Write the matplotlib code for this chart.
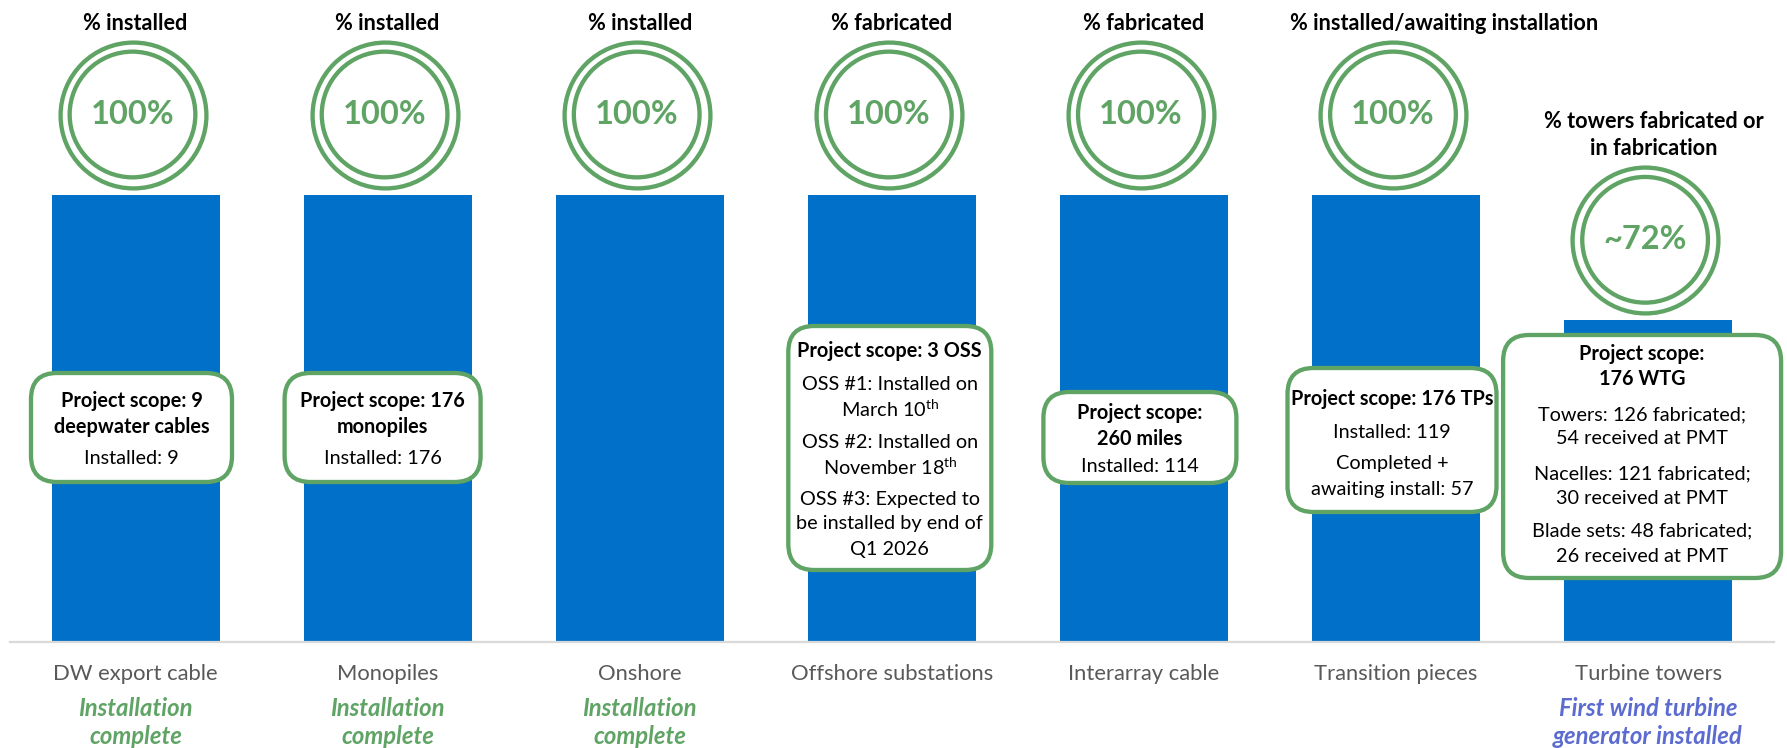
import matplotlib.pyplot as plt
from matplotlib.patches import FancyBboxPatch

# ---- data ----
categories = ["DW export cable", "Monopiles", "Onshore", "Offshore substations",
              "Interarray cable", "Transition pieces", "Turbine towers"]
progress = [100, 100, 100, 100, 100, 100, 72]
progress_labels = ["100%", "100%", "100%", "100%", "100%", "100%", "~72%"]
metric_titles = ["% installed", "% installed", "% installed", "% fabricated",
                 "% fabricated", "% installed/awaiting installation",
                 "% towers fabricated or\nin fabrication"]
status_notes = ["Installation\ncomplete", "Installation\ncomplete", "Installation\ncomplete",
                "", "", "", "First wind turbine\ngenerator installed"]
scope_notes = [
    [("Project scope: 9", True), ("deepwater cables", True), ("Installed: 9", False)],
    [("Project scope: 176", True), ("monopiles", True), ("Installed: 176", False)],
    [],
    [("Project scope: 3 OSS", True), ("OSS #1: Installed on", False),
     ("March 10$^{\\mathrm{th}}$", False), ("OSS #2: Installed on", False),
     ("November 18$^{\\mathrm{th}}$", False), ("OSS #3: Expected to", False),
     ("be installed by end of", False), ("Q1 2026", False)],
    [("Project scope:", True), ("260 miles", True), ("Installed: 114", False)],
    [("Project scope: 176 TPs", True), ("Installed: 119", False),
     ("Completed +", False), ("awaiting install: 57", False)],
    [("Project scope:", True), ("176 WTG", True), ("Towers: 126 fabricated;", False),
     ("54 received at PMT", False), ("Nacelles: 121 fabricated;", False),
     ("30 received at PMT", False), ("Blade sets: 48 fabricated;", False),
     ("26 received at PMT", False)],
]

# ---- layout (pixels of the 1787x748 canvas) ----
# box: (top, bottom, width, x shift, y of each text row)
box_layout = [
    (373, 482, 201, -4, [401, 427, 458]),
    (373, 482, 196, -5, [401, 427, 458]),
    None,
    (326, 570, 203, -2, [351, 385, 409, 442, 467, 499, 524, 550]),
    (392, 483, 193, -4, [413, 439, 467]),
    (368, 512, 209, -4, [399, 433, 464, 490]),
    (335, 578, 278, -6, [354, 379, 415, 439, 474, 498, 531, 556]),
]
title_shift = [0, 0, 0, 0, 0, 48, 6]

BLUE = "#0070C8"
GREEN = "#5FA464"
PURPLE = "#5B6BCF"
GREY = "#595959"

plt.rcParams["font.family"] = ["Lato", "DejaVu Sans"]
plt.rcParams["mathtext.fontset"] = "custom"
plt.rcParams["mathtext.rm"] = "Lato"
plt.rcParams["mathtext.bf"] = "Lato:bold"

W, H = 1787, 748
BASE, TOP100 = 642, 194.5
XC0, XSTEP = 135.5, 252.1
PX_Y = (BASE - TOP100) / 100.0


def dx(px):
    return px / XSTEP


def ypx(py):
    return (BASE - py) / PX_Y


fig = plt.figure(figsize=(W / 100, H / 100), dpi=100)
ax = fig.add_axes([10 / W, (H - BASE) / H, 1764 / W, BASE / H])
ax.set_xlim((10 - XC0) / XSTEP, (1774 - XC0) / XSTEP)
ax.set_ylim(0, BASE / PX_Y)

x = list(range(len(categories)))
ax.bar(x, progress, width=dx(168), color=BLUE, zorder=2)

for s in ["top", "left", "right"]:
    ax.spines[s].set_visible(False)
ax.spines["bottom"].set_color("#D9D9D9")
ax.spines["bottom"].set_linewidth(1.6)
ax.set_yticks([])
ax.set_xticks(x, categories)
ax.tick_params(axis="x", length=0, pad=15.5, labelsize=15.8, labelcolor=GREY)

ring_offset = 80 / PX_Y
for i, v in enumerate(progress):
    cy = v + ring_offset
    ax.scatter([i - dx(3)], [cy], s=105 ** 2, facecolors="white", edgecolors=GREEN,
               linewidths=3.1, zorder=3, clip_on=False)
    ax.scatter([i - dx(3)], [cy], s=90.5 ** 2, facecolors="none", edgecolors=GREEN,
               linewidths=3.1, zorder=3, clip_on=False)
    ax.text(i - dx(3), cy, progress_labels[i], ha="center", va="center", fontsize=23.5,
            fontweight="bold", color=GREEN, zorder=4)

    # title above the ring
    lines = metric_titles[i].split("\n")
    ring_top = cy + 75 / PX_Y
    for k, line in enumerate(reversed(lines)):
        ax.text(i + dx(title_shift[i]), ring_top + (16 + 27 * k) / PX_Y, line,
                ha="center", va="center", fontsize=15.6, fontweight="bold",
                color="black", clip_on=False)

    # status note under the category label
    if status_notes[i]:
        color = PURPLE if i == len(categories) - 1 else GREEN
        for k, line in enumerate(status_notes[i].split("\n")):
            ax.text(i, ypx(709 + 28 * k), line, ha="center", va="center",
                    fontsize=17.2, fontweight="bold", style="italic",
                    color=color, clip_on=False)

    # scope box
    lay = box_layout[i]
    if lay is None:
        continue
    top, bot, bw, shift, rows = lay
    cx = i + dx(shift)
    box = FancyBboxPatch((cx - dx(bw / 2), ypx(bot)), dx(bw), (bot - top) / PX_Y,
                         boxstyle="round,pad=0,rounding_size=%f" % dx(26),
                         mutation_aspect=XSTEP / PX_Y,
                         facecolor="white", edgecolor=GREEN, linewidth=3.1,
                         zorder=5, clip_on=False)
    ax.add_patch(box)
    for (txt, bold), ry in zip(scope_notes[i], rows):
        ax.text(cx, ypx(ry), txt, ha="center", va="center", fontsize=14.3,
                fontweight="bold" if bold else "normal", color="black",
                zorder=6, clip_on=False)

fig.savefig("out.png", dpi=100)
